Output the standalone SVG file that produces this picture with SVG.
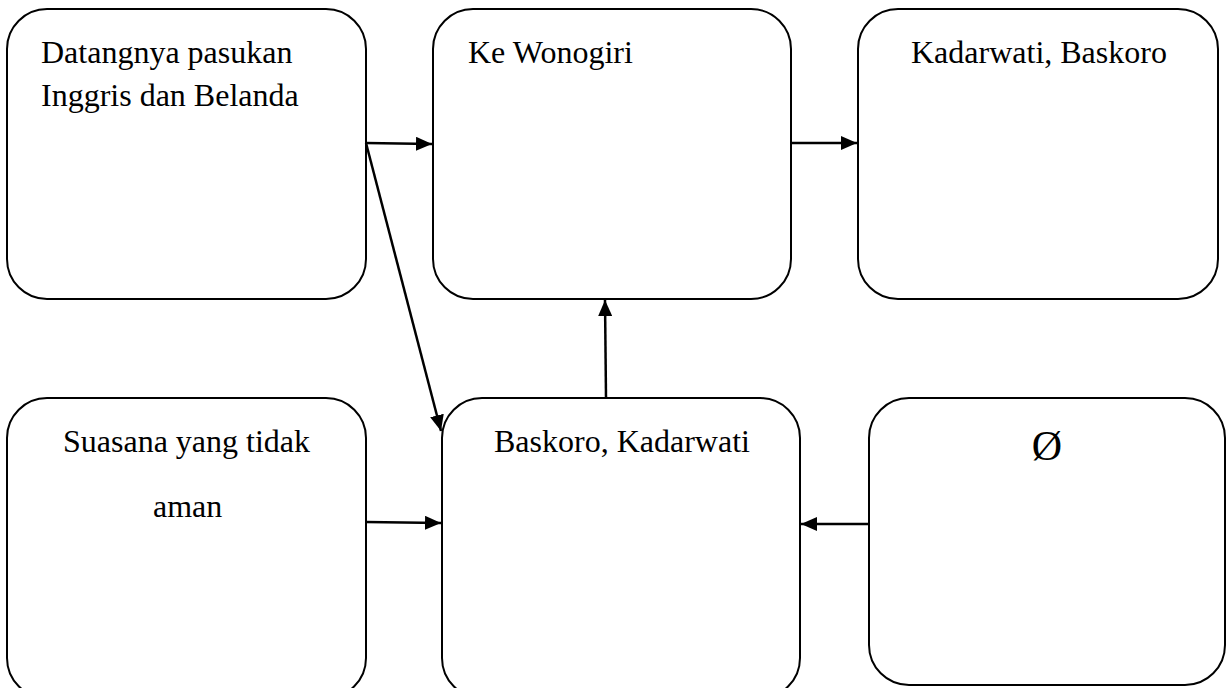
<svg xmlns="http://www.w3.org/2000/svg" width="1226" height="688" viewBox="0 0 1226 688">
<style>
.box{fill:#fff;stroke:#000;stroke-width:2}
.t{font-family:"Liberation Serif","Times New Roman",serif;font-size:32px;fill:#000}
.c{stroke:#000;stroke-width:2.5;fill:none}
</style>
<defs>
<marker id="ah" viewBox="0 0 16 14" refX="16" refY="7" markerWidth="16" markerHeight="14" markerUnits="userSpaceOnUse" orient="auto">
<path d="M0,0 L16,7 L0,14 Z" fill="#000"/>
</marker>
</defs>
<rect width="1226" height="688" fill="#fff"/>
<g id="n1"><rect class="box" x="7" y="9" width="359" height="290" rx="40" ry="40"/>
<text class="t" x="41" y="63">Datangnya pasukan</text>
<text class="t" x="41" y="106">Inggris dan Belanda</text></g>
<g id="n2"><rect class="box" x="433" y="9" width="358" height="290" rx="40" ry="40"/>
<text class="t" x="468" y="63">Ke Wonogiri</text></g>
<g id="n3"><rect class="box" x="858" y="9" width="360" height="290" rx="40" ry="40"/>
<text class="t" x="911" y="63">Kadarwati, Baskoro</text></g>
<g id="n4"><rect class="box" x="7" y="398" width="359" height="300" rx="40" ry="40"/>
<text class="t" x="63" y="452">Suasana yang tidak</text>
<text class="t" x="153" y="517">aman</text></g>
<g id="n5"><rect class="box" x="442" y="398" width="358" height="300" rx="40" ry="40"/>
<text class="t" x="494" y="452">Baskoro, Kadarwati</text></g>
<g id="n6"><rect class="box" x="869" y="398" width="356" height="287" rx="40" ry="40"/>
<text class="t" x="1047" y="460" text-anchor="middle" style="font-size:42px">Ø</text></g>
<g id="connectors">
<line class="c" x1="366" y1="143" x2="432" y2="144" marker-end="url(#ah)"/>
<line class="c" x1="366" y1="143" x2="441" y2="431" marker-end="url(#ah)"/>
<line class="c" x1="606" y1="398" x2="605" y2="300" marker-end="url(#ah)"/>
<line class="c" x1="791" y1="143" x2="857" y2="143" marker-end="url(#ah)"/>
<line class="c" x1="366" y1="522" x2="441" y2="523" marker-end="url(#ah)"/>
<line class="c" x1="869" y1="524" x2="801" y2="524" marker-end="url(#ah)"/>
</g>
</svg>
